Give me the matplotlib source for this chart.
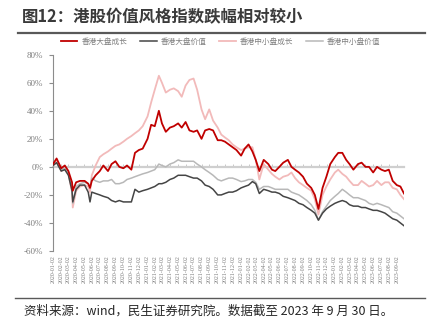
import matplotlib
matplotlib.use("Agg")
import matplotlib.pyplot as plt
import matplotlib.dates as mdates
from matplotlib.lines import Line2D
from matplotlib.ticker import FuncFormatter
import pandas as pd

plt.rcParams['font.family'] = ['Noto Sans CJK SC', 'DejaVu Sans']

# semi-monthly sampling of the four style indices (cumulative return, %)
dates = [
    '2020-01-02', '2020-01-16', '2020-02-03', '2020-02-17', '2020-03-02', '2020-03-16',
    '2020-03-19', '2020-04-01', '2020-04-16', '2020-05-04', '2020-05-18', '2020-05-25',
    '2020-06-01', '2020-06-16', '2020-07-02', '2020-07-16', '2020-08-03', '2020-08-17',
    '2020-09-01', '2020-09-16', '2020-10-02', '2020-10-16', '2020-11-02', '2020-11-16',
    '2020-12-01', '2020-12-16',
    '2021-01-04', '2021-01-18', '2021-02-01', '2021-02-17', '2021-03-01', '2021-03-16',
    '2021-04-01', '2021-04-16', '2021-05-03', '2021-05-17', '2021-06-01', '2021-06-16',
    '2021-07-02', '2021-07-16', '2021-08-02', '2021-08-16', '2021-09-01', '2021-09-16',
    '2021-10-04', '2021-10-18', '2021-11-01', '2021-11-16', '2021-12-01', '2021-12-16',
    '2022-01-03', '2022-01-17', '2022-02-01', '2022-02-16', '2022-03-01', '2022-03-15',
    '2022-04-01', '2022-04-19', '2022-05-03', '2022-05-16', '2022-06-01', '2022-06-16',
    '2022-07-04', '2022-07-18', '2022-08-01', '2022-08-16', '2022-09-01', '2022-09-16',
    '2022-10-03', '2022-10-17', '2022-10-31', '2022-11-16', '2022-12-01', '2022-12-16',
    '2023-01-03', '2023-01-16', '2023-02-01', '2023-02-16', '2023-03-01', '2023-03-16',
    '2023-04-03', '2023-04-17', '2023-05-02', '2023-05-16', '2023-06-01', '2023-06-16',
    '2023-07-03', '2023-07-17', '2023-08-01', '2023-08-16', '2023-09-01', '2023-09-15',
    '2023-09-29',
]

large_growth = [
    2, 6, -1, 1, -3, -11, -17, -11, -10, -10, -12, -15,
    -10, -6, -3, 1, -3, 2, 4, 0, -1, 1, -2, 10, 12, 13,
    20, 30, 29, 40, 31, 25, 28, 29, 31, 28, 32, 26,
    25, 26, 20, 26, 27, 26, 19, 19, 18, 16, 14, 12,
    8, 13, 16, 11, 5, -3, 5, 2, -2, -3, 0, 3,
    5, 0, -2, -4, -7, -12, -15, -20, -30, -15, -7, 2,
    7, 10, 10, 5, 2, -2, 2, 3, 0, 0, -4, 0,
    -2, -3, -2, -10, -13, -14, -19,
]

large_value = [
    1, 3, -3, -2, -6, -17, -25, -16, -13, -13, -18, -25,
    -18, -19, -20, -21, -22, -24, -25, -24, -25, -25, -25, -16, -18, -17,
    -16, -15, -14, -12, -12, -11, -9, -8, -6, -6, -6, -7,
    -8, -8, -10, -13, -14, -16, -20, -20, -19, -18, -18, -17,
    -15, -14, -13, -10.5, -12, -19, -16, -17, -18, -18, -19, -21,
    -22, -23, -24, -26, -27, -29, -31, -33, -38, -33, -30, -28,
    -26, -25, -24, -25, -27, -28, -28, -29, -29, -30, -31, -31,
    -32, -33, -35, -37, -38, -40, -42,
]

small_growth = [
    1, 4, -3, 0, -5, -18, -29, -17, -14, -13, -14, -18,
    -6, 1, 7, 9, 11, 13, 15, 16, 18, 20, 22, 24, 26, 29,
    36, 46, 55, 65, 60, 53, 55, 56, 54, 50, 58, 62,
    63, 55, 41, 34, 41, 33, 28, 23, 21, 19, 16, 14,
    12, 13, 14, 14, 5, -9, 2, -2, -5, -7, -9, -7,
    -6, -4, -8, -11, -13, -15, -17, -23, -34, -20, -14, -9,
    -4, -2, -5, -7, -10, -13, -13, -10, -12, -14, -13, -10,
    -13, -11, -11, -15, -16, -20, -23,
]

small_value = [
    1, 3, -2, -1, -5, -15, -26, -14, -12, -11, -12, -15,
    -8, -10, -11, -10, -10, -9, -12, -12, -11, -9, -8, -7, -6, -5,
    -4, -3, -2, 2, 1, 0, 2, 3, 5, 4, 4, 4,
    4, 2, 0, -2, -4, -6, -9, -10, -9, -8, -8, -9,
    -10.5, -10, -9, -9, -11, -16, -14, -14, -15, -16, -16, -16,
    -16, -18, -19, -20, -22, -24, -27, -31, -38, -32, -28, -24,
    -21, -19, -16, -18, -20, -22, -22, -23, -24, -26, -27, -26,
    -27, -28, -29, -32, -33, -35, -37,
]

series_names = ['香港大盘成长', '香港大盘价值', '香港中小盘成长', '香港中小盘价值']
series_colors = ['#c00000', '#454545', '#f2baba', '#b8b8b8']
series_widths = [1.3, 1.1, 1.3, 1.1]

df = pd.DataFrame({
    'date': pd.to_datetime(dates),
    series_names[0]: large_growth,
    series_names[1]: large_value,
    series_names[2]: small_growth,
    series_names[3]: small_value,
})

fig = plt.figure(figsize=(4.28, 3.32), dpi=100)
ax = fig.add_axes([53 / 428, 1 - 251 / 332, (404 - 53) / 428, (251 - 54.7) / 332])

# draw the light series first so the darker ones sit on top
for idx in [2, 3, 1, 0]:
    name = series_names[idx]
    ax.plot(df['date'], df[name], color=series_colors[idx], lw=series_widths[idx],
            label=name, zorder=3 + (idx in (0, 1)))

ax.set_ylim(-60, 80)
ax.set_yticks(range(-60, 81, 20))
ax.yaxis.set_major_formatter(FuncFormatter(lambda v, p: '%d%%' % v))
ax.set_xlim(pd.Timestamp('2020-01-02'), pd.Timestamp('2023-09-29'))

ax.xaxis.set_major_locator(mdates.MonthLocator(bymonthday=2))
ax.xaxis.set_major_formatter(mdates.DateFormatter('%Y-%m-%d'))
ax.tick_params(axis='x', length=0, labelsize=4.3, labelcolor='#7f7f7f', rotation=90, pad=3)
ax.tick_params(axis='y', length=3, width=0.8, color='#8c8c8c', labelsize=6.5,
               labelcolor='#7f7f7f', pad=4)
for lab in ax.get_xticklabels() + ax.get_yticklabels():
    lab.set_family(['Liberation Serif', 'DejaVu Serif'])

for s in ['top', 'right', 'bottom']:
    ax.spines[s].set_visible(False)
ax.spines['left'].set_color('#8c8c8c')
ax.spines['left'].set_linewidth(0.8)

# zero line carrying the monthly tick marks
zero_axis = ax.secondary_xaxis(60 / 140)
zero_axis.xaxis.set_major_locator(mdates.MonthLocator(bymonthday=2))
zero_axis.tick_params(axis='x', direction='in', length=2.5, width=0.7, color='#c8c8c8',
                      labelbottom=False)
zero_axis.spines['bottom'].set_color('#cfcfcf')
zero_axis.spines['bottom'].set_linewidth(1.6)
zero_axis.spines['bottom'].set_zorder(2)

handles, labels = ax.get_legend_handles_labels()
order = [labels.index(n) for n in series_names]
fig.legend([handles[i] for i in order], [labels[i] for i in order],
           loc='center', bbox_to_anchor=(0.515, 1 - 42 / 332), ncol=4, frameon=False,
           fontsize=5.5, handlelength=2.2, handletextpad=0.5, columnspacing=1.7,
           labelcolor='#7f7f7f')

fig.text(22 / 428, 1 - 17 / 332, '图12：港股价值风格指数跌幅相对较小', fontsize=11.8,
         weight='bold', color='#3a3a3a', va='center', ha='left')
fig.add_artist(Line2D([18 / 428, 425 / 428], [1 - 33 / 332] * 2, color='#595959', lw=1.6))
fig.add_artist(Line2D([15 / 428, 425 / 428], [1 - 298 / 332] * 2, color='#595959', lw=1.0))
fig.text(24 / 428, 1 - 311 / 332, '资料来源：wind，民生证券研究院。数据截至 2023 年 9 月 30 日。',
         fontsize=9, color='#262626', va='center', ha='left')

fig.savefig('out.png', dpi=100)
